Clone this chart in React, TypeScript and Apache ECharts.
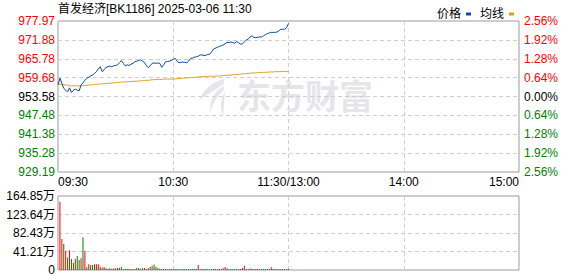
import React, { useEffect, useRef } from 'react';
import * as echarts from 'echarts';

const TITLE = '首发经济[BK1186] 2025-03-06 11:30';
const PREV_CLOSE = 953.58;
const STEP = 6.0975; // price distance between two horizontal grid lines
const VOL_MAX = 164.85;

// bottom to top
const priceTicks = ['929.19', '935.28', '941.38', '947.48', '953.58', '959.68', '965.78', '971.88', '977.97'];
const pctTicks = ['2.56%', '1.92%', '1.28%', '0.64%', '0.00%', '0.64%', '1.28%', '1.92%', '2.56%'];
const timeTicks = ['09:30', '10:30', '11:30/13:00', '14:00', '15:00'];
const volTicks = ['0', '41.21万', '82.43万', '123.64万', '164.85万'];
const legendNames = ['价格', '均线'];

// one value per minute from 09:30 to 11:30
const price = [
  957.3, 959.5, 957.8, 956.2, 955.6, 955.1, 956.4, 954.9, 955.6, 956.0,
  955.6, 955.4, 957.3, 958.0, 958.8, 959.5, 959.8, 960.2, 960.5, 961.0,
  961.6, 962.5, 963.2, 961.6, 962.2, 963.0, 963.2, 963.4, 963.2, 963.5,
  963.6, 963.8, 964.5, 965.2, 964.3, 963.5, 963.8, 963.6, 964.0, 964.3,
  964.8, 965.0, 965.2, 965.4, 965.0, 964.6, 963.6, 962.9, 963.5, 964.3,
  964.4, 964.3, 964.4, 964.3, 963.0, 963.8, 964.8, 964.9, 965.0, 965.2,
  965.6, 965.9, 965.0, 964.5, 964.6, 964.7, 964.6, 964.5, 965.0, 965.9,
  966.0, 966.3, 966.4, 966.6, 967.0, 967.0, 966.8, 966.9, 967.2, 967.2,
  968.0, 968.9, 969.2, 969.5, 969.7, 970.0, 970.2, 970.6, 971.1, 971.0,
  971.2, 971.0, 970.8, 971.3, 971.0, 970.5, 970.6, 971.2, 971.8, 972.1,
  972.8, 973.2, 972.6, 972.6, 972.7, 972.8, 972.8, 973.2, 973.6, 973.9,
  974.1, 974.3, 974.3, 974.3, 974.4, 974.8, 975.3, 975.3, 975.3, 975.8,
  977.2,
];

const avgPrice = [
  957.6, 957.6, 957.5, 957.4, 957.3, 957.2, 957.1, 957.0, 957.0, 957.0,
  957.0, 957.0, 957.0, 957.1, 957.1, 957.2, 957.3, 957.3, 957.4, 957.5,
  957.5, 957.6, 957.6, 957.7, 957.7, 957.8, 957.8, 957.9, 957.9, 958.0,
  958.1, 958.1, 958.2, 958.2, 958.3, 958.3, 958.3, 958.4, 958.4, 958.5,
  958.5, 958.5, 958.6, 958.6, 958.7, 958.7, 958.8, 958.8, 958.9, 959.0,
  959.0, 959.1, 959.1, 959.1, 959.1, 959.2, 959.2, 959.2, 959.2, 959.2,
  959.2, 959.3, 959.3, 959.4, 959.4, 959.5, 959.5, 959.6, 959.6, 959.7,
  959.7, 959.8, 959.8, 959.9, 959.9, 960.0, 960.0, 960.0, 960.1, 960.1,
  960.1, 960.1, 960.2, 960.2, 960.2, 960.3, 960.3, 960.4, 960.4, 960.5,
  960.5, 960.6, 960.6, 960.7, 960.7, 960.8, 960.9, 960.9, 961.0, 961.0,
  961.1, 961.2, 961.2, 961.2, 961.3, 961.3, 961.3, 961.4, 961.4, 961.4,
  961.5, 961.5, 961.5, 961.6, 961.6, 961.6, 961.6, 961.7, 961.7, 961.7,
  961.7,
];

// volume in 万, one bar per minute from 09:31 to 11:30
const volume = [
  152, 69, 58, 43, 28, 44, 24.5, 16, 24.5, 31,
  22, 26, 72.8, 43, 6, 13, 11, 11, 12.6, 13,
  13, 7.4, 5, 6.7, 4, 3, 4, 3, 3.5, 3.5,
  4.5, 5, 6, 2.5, 2, 2, 2.5, 2, 2, 2.5,
  4.5, 4.5, 3, 4, 4.5, 2.5, 4, 6.7, 9.6, 12,
  7, 4.5, 3, 2, 2, 2, 1.5, 2, 2, 1.5,
  2, 2, 2, 1.5, 2, 2, 2, 1.5, 2, 2,
  2, 2, 11, 2.5, 2.5, 2.5, 2, 2, 1.5, 2,
  2, 2, 2, 2, 2, 4, 6.7, 4, 2, 2,
  2, 2, 1.5, 2, 2, 4.5, 9.6, 2.5, 2, 3.5,
  2, 2, 2, 3, 2, 2, 2, 2, 2, 2,
  6, 3, 2, 2, 2, 2, 2, 2, 2, 2,
];
// u = up (red), d = down (green)
const volDir = [
  'u', 'u', 'd', 'u', 'd', 'u', 'd', 'd', 'u', 'd',
  'd', 'u', 'd', 'u', 'u', 'u', 'd', 'd', 'u', 'u',
  'u', 'd', 'u', 'u', 'u', 'd', 'd', 'u', 'u', 'u',
  'u', 'd', 'd', 'u', 'd', 'u', 'u', 'd', 'u', 'u',
  'd', 'd', 'u', 'd', 'u', 'u', 'u', 'd', 'u', 'd',
  'd', 'd', 'u', 'u', 'd', 'u', 'u', 'd', 'u', 'u',
  'd', 'u', 'u', 'd', 'u', 'u', 'd', 'u', 'u', 'u',
  'd', 'u', 'u', 'd', 'd', 'd', 'u', 'u', 'd', 'u',
  'd', 'u', 'd', 'u', 'd', 'u', 'u', 'u', 'd', 'u',
  'd', 'u', 'd', 'u', 'd', 'u', 'u', 'u', 'd', 'u',
  'u', 'd', 'u', 'u', 'u', 'd', 'u', 'u', 'd', 'u',
  'u', 'u', 'd', 'u', 'd', 'u', 'd', 'u', 'd', 'u',
];

const RED = '#ff0000';
const GREEN = '#008000';
const PRICE_COLOR = '#0b4da2';
const AVG_COLOR = '#dca11c';
const FONT = "Arial, 'Liberation Sans', 'Noto Sans CJK SC', sans-serif";

const LOGO_D =
  'M26 1 C14 4 5 12 1 22 C8 18 16 12 26 6 Z ' +
  'M26 8 C17 13 11 22 12 34 C15 25 20 17 26 12 Z ' +
  'M27 14 C23 20 21 29 25 38 C26 30 26 22 27 17 Z';

let logoRegistered = false;

export default function App() {
  const ref = useRef<HTMLDivElement>(null);

  useEffect(() => {
    if (!ref.current) return;
    if (!logoRegistered) {
      echarts.graphic.registerShape('emlogo', echarts.graphic.extendPath(LOGO_D as any, {}) as any);
      logoRegistered = true;
    }
    const chart = echarts.init(ref.current, undefined, { renderer: 'svg' });

    const toStep = (p: number) => (p - PREV_CLOSE) / STEP;
    const signColor = (v: any) => {
      const n = Number(v);
      if (n > 0.001) return RED;
      if (n < -0.001) return GREEN;
      return '#000';
    };
    const dashed = { show: true, lineStyle: { color: '#cfcfcf', type: [4, 3] as any, width: 1 } };

    chart.setOption({
      animation: false,
      textStyle: { fontFamily: FONT },
      graphic: [
        {
          type: 'text',
          left: 58,
          top: 3,
          style: { text: TITLE, fill: '#000', font: `12px ${FONT}` },
          z: 10,
        },
        {
          type: 'emlogo',
          x: 198,
          y: 78,
          scaleX: 1,
          scaleY: 1,
          style: { fill: '#e6e6ea' },
          z: -1,
        },
        {
          type: 'text',
          left: 237,
          top: 77,
          style: {
            text: '东方财富',
            fill: '#e6e6ea',
            font: "bold 34px 'Noto Sans CJK SC', sans-serif",
          },
          z: -1,
        },
      ],
      legend: {
        data: legendNames,
        left: 432,
        top: 3,
        align: 'right',
        icon: 'rect',
        itemWidth: 5,
        itemHeight: 3,
        itemGap: 9,
        textStyle: { fontSize: 12, color: '#000', fontFamily: FONT },
      },
      grid: [
        { left: 58, top: 21, width: 461, height: 151, show: true, borderColor: '#999', borderWidth: 1, backgroundColor: 'transparent' },
        { left: 58, top: 196, width: 461, height: 74, show: true, borderColor: '#999', borderWidth: 1, backgroundColor: 'transparent' },
      ],
      xAxis: [
        {
          type: 'value',
          gridIndex: 0,
          min: 0,
          max: 240,
          interval: 60,
          axisLine: { show: false },
          axisTick: { show: false },
          splitLine: dashed,
          axisLabel: {
            margin: 4,
            fontSize: 12,
            color: '#000',
            fontFamily: FONT,
            showMinLabel: true,
            showMaxLabel: true,
            alignMinLabel: 'left',
            alignMaxLabel: 'right',
            formatter: (v: number) => timeTicks[Math.round(v / 60)] ?? '',
          },
        },
        {
          type: 'value',
          gridIndex: 1,
          min: 0,
          max: 240,
          interval: 60,
          axisLine: { show: false },
          axisTick: { show: false },
          splitLine: dashed,
          axisLabel: { show: false },
        },
      ],
      yAxis: [
        {
          type: 'value',
          gridIndex: 0,
          min: -4,
          max: 4,
          interval: 1,
          axisLine: { show: false },
          axisTick: { show: false },
          splitLine: dashed,
          axisLabel: {
            margin: 3,
            fontSize: 12,
            fontFamily: FONT,
            color: signColor as any,
            formatter: (v: number) => priceTicks[Math.round(v) + 4] ?? '',
          },
        },
        {
          type: 'value',
          gridIndex: 0,
          position: 'right',
          min: -4,
          max: 4,
          interval: 1,
          axisLine: { show: false },
          axisTick: { show: false },
          splitLine: { show: false },
          axisLabel: {
            margin: 5,
            fontSize: 12,
            fontFamily: FONT,
            color: signColor as any,
            formatter: (v: number) => pctTicks[Math.round(v) + 4] ?? '',
          },
        },
        {
          type: 'value',
          gridIndex: 1,
          min: 0,
          max: VOL_MAX,
          interval: VOL_MAX / 4,
          axisLine: { show: false },
          axisTick: { show: false },
          splitLine: dashed,
          axisLabel: {
            margin: 3,
            fontSize: 12,
            fontFamily: FONT,
            color: '#000',
            formatter: (v: number) => volTicks[Math.round(v / (VOL_MAX / 4))] ?? '',
          },
        },
      ],
      series: [
        {
          name: legendNames[0],
          type: 'line',
          xAxisIndex: 0,
          yAxisIndex: 0,
          showSymbol: false,
          lineStyle: { color: PRICE_COLOR, width: 1 },
          itemStyle: { color: PRICE_COLOR },
          data: price.map((p, i) => [i, toStep(p)]),
          z: 3,
        },
        {
          name: legendNames[1],
          type: 'line',
          xAxisIndex: 0,
          yAxisIndex: 0,
          showSymbol: false,
          lineStyle: { color: AVG_COLOR, width: 1 },
          itemStyle: { color: AVG_COLOR },
          data: avgPrice.map((p, i) => [i, toStep(p)]),
          z: 2,
        },
        {
          name: 'vol',
          type: 'bar',
          xAxisIndex: 1,
          yAxisIndex: 2,
          barWidth: 1,
          data: volume.map((v, i) => ({
            value: [i + 1, v],
            itemStyle: { color: volDir[i] === 'u' ? RED : GREEN },
          })),
        },
      ],
    } as any);

    return () => chart.dispose();
  }, []);

  return (
    <div
      ref={ref}
      style={{ position: 'fixed', left: 0, top: 0, width: 578, height: 276, background: '#fff' }}
    />
  );
}
